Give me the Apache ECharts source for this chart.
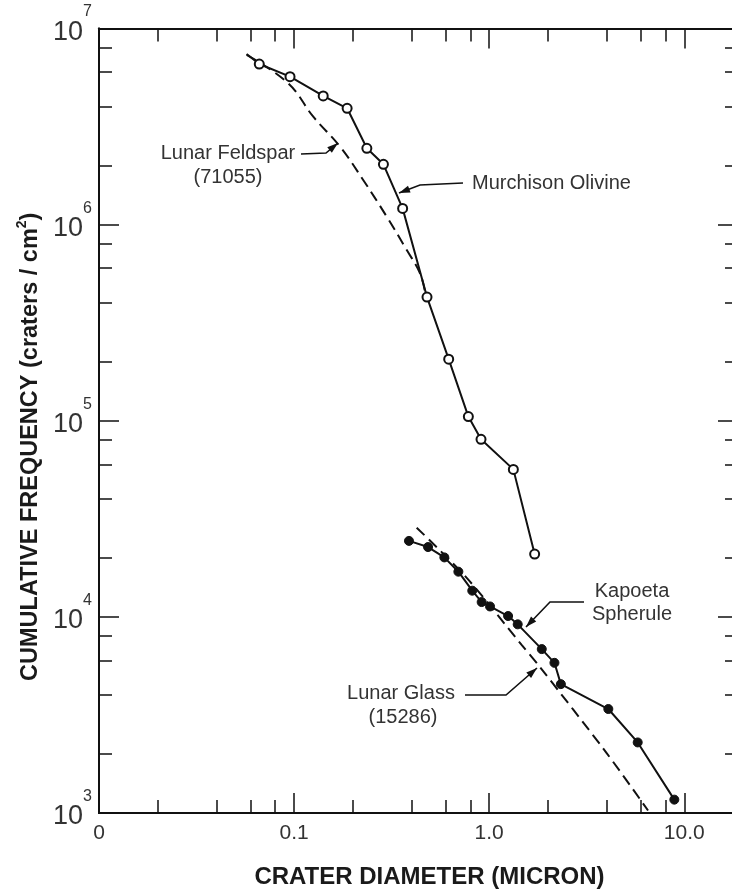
<!DOCTYPE html>
<html>
<head>
<meta charset="utf-8">
<script src="https://cdn.jsdelivr.net/npm/echarts@6/dist/echarts.min.js"></script>
<style>
  html, body { margin: 0; padding: 0; background: #fff; }
  #chart { width: 732px; height: 890px; }
</style>
</head>
<body>
<div id="chart"></div>
<script>
// ---------- data ----------
// Murchison Olivine (open circles); first entry is where the drawn line begins (no marker)
const murchisonX = [0.0571, 0.0663, 0.0953, 0.141, 0.187, 0.236, 0.287, 0.360, 0.480, 0.620, 0.782, 0.908, 1.33, 1.71];
const murchisonY = [7.41e6, 6.59e6, 5.68e6, 4.53e6, 3.92e6, 2.45e6, 2.03e6, 1.21e6, 4.27e5, 2.06e5, 1.05e5, 8.04e4, 5.65e4, 2.09e4];
// Lunar Feldspar (71055) dashed curve
const feldsparX = [0.0571, 0.0934, 0.1254, 0.172, 0.226, 0.298, 0.378, 0.442, 0.469];
const feldsparY = [7.33e6, 5.25e6, 3.55e6, 2.50e6, 1.69e6, 1.10e6, 7.42e5, 5.65e5, 4.53e5];
// Kapoeta Spherule (filled circles)
const kapoetaX = [0.388, 0.486, 0.589, 0.695, 0.819, 0.915, 1.01, 1.25, 1.40, 1.86, 2.16, 2.33, 4.08, 5.77, 8.89];
const kapoetaY = [2.44e4, 2.27e4, 2.01e4, 1.70e4, 1.36e4, 1.19e4, 1.13e4, 1.01e4, 9.16e3, 6.85e3, 5.83e3, 4.54e3, 3.39e3, 2.29e3, 1.17e3];
// Lunar Glass (15286) dashed line
const glassX = [0.425, 0.767, 1.47, 1.82, 4.00, 6.52];
const glassY = [2.85e4, 1.58e4, 7.18e3, 5.55e3, 2.02e3, 1.03e3];

// axis ticks and labels
const xMajorTicks = [0.01, 0.1, 1, 10];
const xTickLabels = ['0', '0.1', '1.0', '10.0'];
const xMinorTicks = [0.02, 0.04, 0.06, 0.08, 0.2, 0.4, 0.6, 0.8, 2, 4, 6, 8];
const yMajorTicks = [1e3, 1e4, 1e5, 1e6, 1e7];
const yTickExponents = ['3', '4', '5', '6', '7'];
const yMinorTicks = [2e3, 4e3, 6e3, 8e3, 2e4, 4e4, 6e4, 8e4, 2e5, 4e5, 6e5, 8e5, 2e6, 4e6, 6e6, 8e6];
const xRange = [0.01, 18.85];
const yRange = [1e3, 1e7];

const xTitle = 'CRATER DIAMETER (MICRON)';
const yTitleMain = 'CUMULATIVE FREQUENCY (craters / cm';
const yTitleSup = '2';

// ---------- chart ----------
const FONT = '"Liberation Sans", Arial, Helvetica, sans-serif';
const INK = '#111';
const TEXT = '#333';

const zip = (xs, ys) => xs.map((x, i) => [x, ys[i]]);

function findIndex(arr, v) {
  let best = 0, bd = Infinity;
  arr.forEach((a, i) => { const d = Math.abs(Math.log10(a) - Math.log10(v)); if (d < bd) { bd = d; best = i; } });
  return best;
}

function axisBase(type, pos, ticks, len, extra) {
  return Object.assign({
    type: 'log', logBase: 10, position: pos,
    min: type === 'x' ? xRange[0] : yRange[0],
    max: type === 'x' ? xRange[1] : yRange[1],
    splitLine: { show: false },
    axisLine: { show: true, onZero: false, lineStyle: { color: INK, width: 2 } },
    axisTick: { show: true, inside: true, length: len, customValues: ticks, lineStyle: { color: INK, width: 1.5 } },
    axisLabel: { show: false },
    splitArea: { show: false }
  }, extra || {});
}

function arrow(pts) {
  const [x1, y1] = pts[pts.length - 2];
  const [x2, y2] = pts[pts.length - 1];
  const a = Math.atan2(y2 - y1, x2 - x1);
  const L = 11, W = 3.6;
  const bx = x2 - L * Math.cos(a), by = y2 - L * Math.sin(a);
  return [
    { type: 'polyline', shape: { points: pts }, style: { stroke: INK, lineWidth: 1.6, fill: null } },
    { type: 'polygon', shape: { points: [[x2, y2], [bx + W * Math.sin(a), by - W * Math.cos(a)], [bx - W * Math.sin(a), by + W * Math.cos(a)]] }, style: { fill: INK } }
  ];
}
function label(text, x, y, align) {
  return { type: 'text', x: x, y: y, style: { text: text, fill: TEXT, fontSize: 20, fontFamily: FONT, align: align || 'center', verticalAlign: 'middle' } };
}

const chart = echarts.init(document.getElementById('chart'), null, { renderer: 'canvas' });

const option = {
  animation: false,
  backgroundColor: '#fff',
  grid: { left: 99, top: 28.5, right: -6, bottom: 77, containLabel: false, outerBoundsMode: 'none' },
  xAxis: [
    axisBase('x', 'bottom', xMajorTicks, 20, {
      name: xTitle, nameLocation: 'middle', nameGap: 52,
      nameTextStyle: { fontFamily: FONT, fontWeight: 'bold', fontSize: 24, color: '#1a1a1a', padding: [0, 0, 0, 22] },
      axisLabel: {
        show: true, customValues: xMajorTicks, margin: 10, color: TEXT, fontFamily: FONT, fontSize: 21,
        formatter: v => xTickLabels[findIndex(xMajorTicks, v)]
      }
    }),
    axisBase('x', 'bottom', xMinorTicks, 13),
    axisBase('x', 'top', xMajorTicks, 20),
    axisBase('x', 'top', xMinorTicks, 13)
  ],
  yAxis: [
    axisBase('y', 'left', yMajorTicks, 20, {
      name: '{t|' + yTitleMain + '}{s|' + yTitleSup + '}{t|)}', nameLocation: 'middle', nameGap: 50,
      nameTextStyle: {
        color: '#1a1a1a', padding: [0, 52, 0, 0],
        rich: {
          t: { fontFamily: FONT, fontWeight: 'bold', fontSize: 23.5, color: '#1a1a1a' },
          s: { fontFamily: FONT, fontWeight: 'bold', fontSize: 14, color: '#1a1a1a', padding: [0, 0, 17, 0] }
        }
      },
      axisLabel: {
        show: true, customValues: yMajorTicks, margin: 7,
        formatter: v => '{b|10}{e|' + yTickExponents[findIndex(yMajorTicks, v)] + '}',
        rich: {
          b: { fontFamily: FONT, fontSize: 27, color: TEXT, padding: [8, 0, 0, 0] },
          e: { fontFamily: FONT, fontSize: 16, color: TEXT, padding: [0, 0, 33, 0] }
        }
      }
    }),
    axisBase('y', 'left', yMinorTicks, 13),
    axisBase('y', 'right', yMajorTicks, 20),
    axisBase('y', 'right', yMinorTicks, 13)
  ],
  series: [
    {
      name: 'Lunar Feldspar (71055)', type: 'line', xAxisIndex: 0, yAxisIndex: 0,
      data: zip(feldsparX, feldsparY), smooth: 0.4, showSymbol: false, symbol: 'none',
      lineStyle: { color: INK, width: 2, type: [11, 6] }, z: 2
    },
    {
      name: 'Lunar Glass (15286)', type: 'line', xAxisIndex: 0, yAxisIndex: 0,
      data: zip(glassX, glassY), smooth: 0.3, showSymbol: false, symbol: 'none',
      lineStyle: { color: INK, width: 2, type: [11, 6] }, z: 2
    },
    {
      name: 'Murchison Olivine', type: 'line', xAxisIndex: 0, yAxisIndex: 0,
      data: zip(murchisonX, murchisonY),
      symbol: (v, p) => (p.dataIndex === 0 ? 'none' : 'circle'), symbolSize: 9,
      itemStyle: { color: '#fff', borderColor: INK, borderWidth: 2 },
      lineStyle: { color: INK, width: 2 }, z: 3
    },
    {
      name: 'Kapoeta Spherule', type: 'line', xAxisIndex: 0, yAxisIndex: 0,
      data: zip(kapoetaX, kapoetaY), symbol: 'circle', symbolSize: 9,
      itemStyle: { color: INK, borderColor: INK, borderWidth: 1 },
      lineStyle: { color: INK, width: 2 }, z: 3
    }
  ],
  graphic: [].concat(
    label('Lunar Feldspar', 228, 153),
    label('(71055)', 228, 177),
    arrow([[301, 154], [326, 153], [338, 143]]),
    label('Murchison Olivine', 472, 183, 'left'),
    arrow([[463, 183], [420, 185], [399, 193]]),
    label('Kapoeta', 632, 591),
    label('Spherule', 632, 614),
    arrow([[584, 602], [550, 602], [526, 627]]),
    label('Lunar Glass', 401, 693),
    label('(15286)', 403, 717),
    arrow([[465, 695], [506, 695], [537, 668]])
  )
};
chart.setOption(option);
</script>
</body>
</html>
